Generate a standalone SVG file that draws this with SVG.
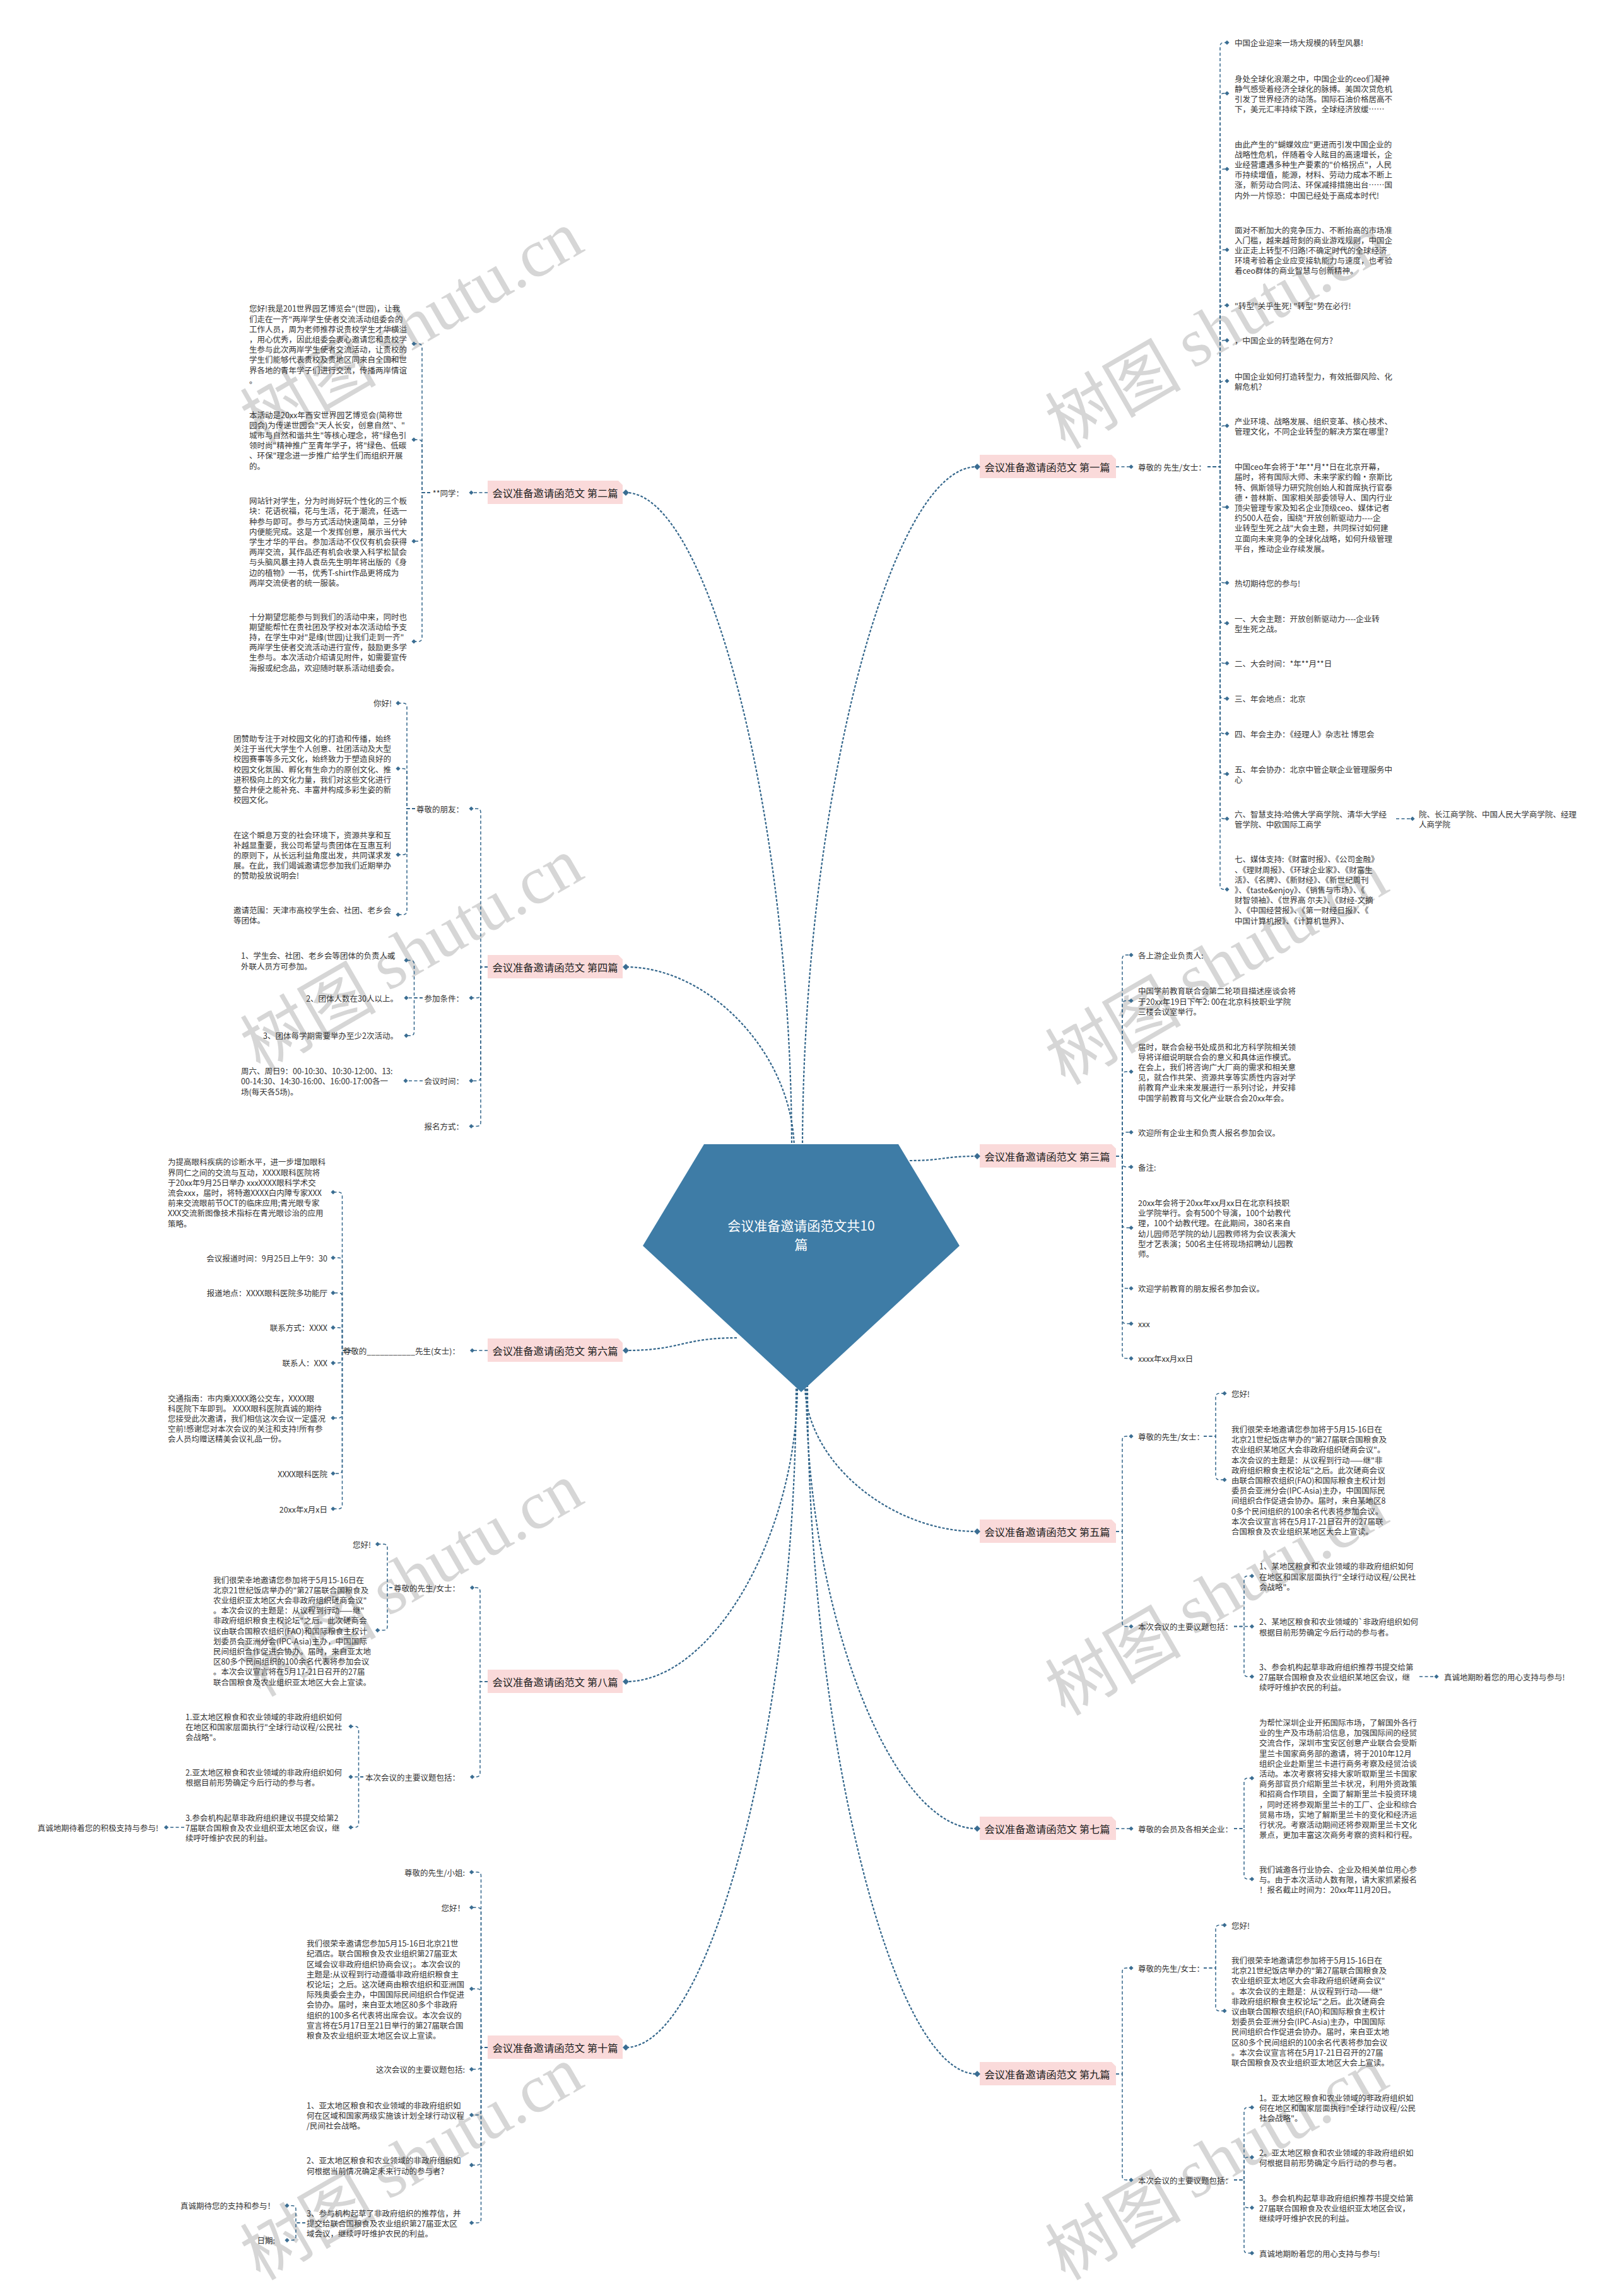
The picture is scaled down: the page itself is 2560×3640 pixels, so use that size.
<svg xmlns="http://www.w3.org/2000/svg" width="2560" height="3640" viewBox="0 0 2560 3640">
<defs>
<style>
.t{font-family:"Noto Sans CJK SC","Liberation Sans",sans-serif;font-size:12.5px;fill:#333;dominant-baseline:central}
.e{text-anchor:end}
.lb{font-family:"Noto Sans CJK SC","Liberation Sans",sans-serif;font-size:16.3px;fill:#222;text-anchor:middle;dominant-baseline:central}
.ct{font-family:"Noto Sans CJK SC","Liberation Sans",sans-serif;font-size:21px;fill:#fff;text-anchor:middle;dominant-baseline:central}
.box{fill:#fadada}
.c{fill:none;stroke:#33668b;stroke-width:1.5;stroke-dasharray:5 3.5}
.m{fill:none;stroke:#33668b;stroke-width:2.2;stroke-dasharray:4 2.5}
.wm{font-family:"Noto Sans CJK SC",sans-serif;font-size:108px;fill:#d6d6d6;text-anchor:middle;dominant-baseline:central}
.wm tspan{font-family:"Liberation Serif",serif}
</style>
<path id="d" d="M0,-3.6L3.6,0L0,3.6L-3.6,0Z" fill="#3a6d92"/>
<path id="D" d="M0,-5L5,0L0,5L-5,0Z" fill="#3a6d92"/>
</defs>
<rect width="2560" height="3640" fill="#fff"/>
<g id="watermarks">
<text class="wm" transform="translate(650,515) rotate(-30)">树图 <tspan>shutu.cn</tspan></text>
<text class="wm" transform="translate(1926,522) rotate(-30)">树图 <tspan>shutu.cn</tspan></text>
<text class="wm" transform="translate(650,1509) rotate(-30)">树图 <tspan>shutu.cn</tspan></text>
<text class="wm" transform="translate(1926,1530) rotate(-30)">树图 <tspan>shutu.cn</tspan></text>
<text class="wm" transform="translate(650,2500) rotate(-30)">树图 <tspan>shutu.cn</tspan></text>
<text class="wm" transform="translate(1926,2530) rotate(-30)">树图 <tspan>shutu.cn</tspan></text>
<text class="wm" transform="translate(650,3425) rotate(-30)">树图 <tspan>shutu.cn</tspan></text>
<text class="wm" transform="translate(1926,3425) rotate(-30)">树图 <tspan>shutu.cn</tspan></text>
</g>
<g id="connectors">
<path class="m" d="M1272,1825C1272,1277 1410,740 1548,740"/>
<path class="m" d="M1255,1825C1255,1297 1124,781 992,781"/>
<path class="m" d="M1259,1825C1259,1673 1125,1533 992,1533"/>
<path class="m" d="M1442,1840C1495,1840 1495,1833 1548,1833"/>
<path class="m" d="M1168,2121C1080,2121 1080,2141 992,2141"/>
<path class="m" d="M1276,2195C1276,2317 1412,2428 1548,2428"/>
<path class="m" d="M1278,2195C1278,2553 1413,2899 1548,2899"/>
<path class="m" d="M1280,2195C1280,2747 1414,3288 1548,3288"/>
<path class="m" d="M1264,2195C1264,2436 1128,2666 992,2666"/>
<path class="m" d="M1262,2195C1262,2726 1127,3246 992,3246"/>
<!-- 第一篇 -->
<path class="c" d="M1769,740H1793"/>
<path class="c" d="M1914,740H1934V73.5Q1934,67.5 1940,67.5H1945"/>
<path class="c" d="M1914,740H1934V154Q1934,148 1940,148H1945"/>
<path class="c" d="M1914,740H1934V274Q1934,268 1940,268H1945"/>
<path class="c" d="M1914,740H1934V402Q1934,396 1940,396H1945"/>
<path class="c" d="M1914,740H1934V490Q1934,484 1940,484H1945"/>
<path class="c" d="M1914,740H1934V545.6Q1934,539.6 1940,539.6H1945"/>
<path class="c" d="M1914,740H1934V610Q1934,604 1940,604H1945"/>
<path class="c" d="M1914,740H1934V681Q1934,675 1940,675H1945"/>
<path class="c" d="M1914,740H1934V798Q1934,804 1940,804H1945"/>
<path class="c" d="M1914,740H1934V918Q1934,924 1940,924H1945"/>
<path class="c" d="M1914,740H1934V982Q1934,988 1940,988H1945"/>
<path class="c" d="M1914,740H1934V1045.5Q1934,1051.5 1940,1051.5H1945"/>
<path class="c" d="M1914,740H1934V1101.6Q1934,1107.6 1940,1107.6H1945"/>
<path class="c" d="M1914,740H1934V1157Q1934,1163 1940,1163H1945"/>
<path class="c" d="M1914,740H1934V1221Q1934,1227 1940,1227H1945"/>
<path class="c" d="M1914,740H1934V1292Q1934,1298 1940,1298H1945"/>
<path class="c" d="M1914,740H1934V1404Q1934,1410 1940,1410H1945"/>
<path class="c" d="M2213,1298H2239"/>
<!-- 第三篇 -->
<path class="c" d="M1769,1833H1779V1520Q1779,1514 1785,1514H1793"/>
<path class="c" d="M1769,1833H1779V1592.5Q1779,1586.5 1785,1586.5H1793"/>
<path class="c" d="M1769,1833H1779V1705Q1779,1699 1785,1699H1793"/>
<path class="c" d="M1769,1833H1779V1801Q1779,1795 1785,1795H1793"/>
<path class="c" d="M1769,1833H1779V1844Q1779,1850 1785,1850H1793"/>
<path class="c" d="M1769,1833H1779V1940.5Q1779,1946.5 1785,1946.5H1793"/>
<path class="c" d="M1769,1833H1779V2036.5Q1779,2042.5 1785,2042.5H1793"/>
<path class="c" d="M1769,1833H1779V2092.5Q1779,2098.5 1785,2098.5H1793"/>
<path class="c" d="M1769,1833H1779V2147.6Q1779,2153.6 1785,2153.6H1793"/>
<!-- 第五篇 -->
<path class="c" d="M1769,2428H1779V2283Q1779,2277 1785,2277H1793"/>
<path class="c" d="M1769,2428H1779V2572.5Q1779,2578.5 1785,2578.5H1793"/>
<path class="c" d="M1908,2277H1927V2215Q1927,2209 1933,2209H1941"/>
<path class="c" d="M1908,2277H1927V2340Q1927,2346 1933,2346H1941"/>
<path class="c" d="M1956,2578.5H1972V2504.5Q1972,2498.5 1978,2498.5H1984.5"/>
<path class="c" d="M1956,2578.5H1984.5"/>
<path class="c" d="M1956,2578.5H1972V2652Q1972,2658 1978,2658H1984.5"/>
<path class="c" d="M2250,2658H2277"/>
<!-- 第七篇 -->
<path class="c" d="M1769,2899H1793"/>
<path class="c" d="M1956,2899H1972V2825Q1972,2819 1978,2819H1984.5"/>
<path class="c" d="M1956,2899H1972V2973Q1972,2979 1978,2979H1984.5"/>
<!-- 第九篇 -->
<path class="c" d="M1769,3288H1779V3126Q1779,3120 1785,3120H1793"/>
<path class="c" d="M1769,3288H1779V3450Q1779,3456 1785,3456H1793"/>
<path class="c" d="M1908,3120H1927V3058Q1927,3052 1933,3052H1941"/>
<path class="c" d="M1908,3120H1927V3182Q1927,3188 1933,3188H1941"/>
<path class="c" d="M1956,3456H1972V3347Q1972,3341 1978,3341H1984.5"/>
<path class="c" d="M1956,3456H1972V3426Q1972,3420 1978,3420H1984.5"/>
<path class="c" d="M1956,3456H1972V3494Q1972,3500 1978,3500H1984.5"/>
<path class="c" d="M1956,3456H1972V3566Q1972,3572 1978,3572H1984.5"/>
<!-- 第二篇 -->
<path class="c" d="M773,781H747"/>
<path class="c" d="M682,781H669V551Q669,545 663,545H656"/>
<path class="c" d="M682,781H669V703Q669,697 663,697H656"/>
<path class="c" d="M682,781H669V852Q669,858 663,858H656"/>
<path class="c" d="M682,781H669V1011Q669,1017 663,1017H656"/>
<!-- 第四篇 -->
<path class="c" d="M773,1533H762V1288Q762,1282 756,1282H747"/>
<path class="c" d="M773,1533H762V1576Q762,1582 756,1582H747"/>
<path class="c" d="M773,1533H762V1707.4Q762,1713.4 756,1713.4H747"/>
<path class="c" d="M773,1533H762V1779.5Q762,1785.5 756,1785.5H747"/>
<path class="c" d="M658,1282H645V1120.7Q645,1114.7 639,1114.7H631"/>
<path class="c" d="M658,1282H645V1224.5Q645,1218.5 639,1218.5H631"/>
<path class="c" d="M658,1282H645V1349Q645,1355 639,1355H631"/>
<path class="c" d="M658,1282H645V1444Q645,1450 639,1450H631"/>
<path class="c" d="M670,1582H656.5V1528.4Q656.5,1522.4 650.5,1522.4H644"/>
<path class="c" d="M670,1582H644"/>
<path class="c" d="M670,1582H656.5V1635.8Q656.5,1641.8 650.5,1641.8H644"/>
<path class="c" d="M670,1713.4H643"/>
<!-- 第六篇 -->
<path class="c" d="M773,2141H748.5"/>
<path class="c" d="M557,2141H542.5V1896Q542.5,1890 536.5,1890H528"/>
<path class="c" d="M557,2141H542.5V2000Q542.5,1994 536.5,1994H528"/>
<path class="c" d="M557,2141H542.5V2055.7Q542.5,2049.7 536.5,2049.7H528"/>
<path class="c" d="M557,2141H542.5V2110.7Q542.5,2104.7 536.5,2104.7H528"/>
<path class="c" d="M557,2141H542.5V2154.8Q542.5,2160.8 536.5,2160.8H528"/>
<path class="c" d="M557,2141H542.5V2242Q542.5,2248 536.5,2248H528"/>
<path class="c" d="M557,2141H542.5V2330Q542.5,2336 536.5,2336H528"/>
<path class="c" d="M557,2141H542.5V2386Q542.5,2392 536.5,2392H528"/>
<!-- 第八篇 -->
<path class="c" d="M773,2666H761V2523Q761,2517 755,2517H748.5"/>
<path class="c" d="M773,2666H761V2811Q761,2817 755,2817H748.5"/>
<path class="c" d="M622,2517H614V2454Q614,2448 608,2448H598.5"/>
<path class="c" d="M622,2517H614V2578.6Q614,2584.6 608,2584.6H598.5"/>
<path class="c" d="M576,2817H568.5V2743Q568.5,2737 562.5,2737H556"/>
<path class="c" d="M576,2817H556"/>
<path class="c" d="M576,2817H568.5V2891Q568.5,2897 562.5,2897H556"/>
<path class="c" d="M292,2897H263.5"/>
<!-- 第十篇 -->
<path class="c" d="M773,3246H762.5V2974Q762.5,2968 756.5,2968H747.5"/>
<path class="c" d="M773,3246H762.5V3030Q762.5,3024 756.5,3024H747.5"/>
<path class="c" d="M773,3246H762.5V3159Q762.5,3153 756.5,3153H747.5"/>
<path class="c" d="M773,3246H762.5V3274.6Q762.5,3280.6 756.5,3280.6H747.5"/>
<path class="c" d="M773,3246H762.5V3347Q762.5,3353 756.5,3353H747.5"/>
<path class="c" d="M773,3246H762.5V3426.4Q762.5,3432.4 756.5,3432.4H747.5"/>
<path class="c" d="M773,3246H762.5V3518Q762.5,3524 756.5,3524H747.5"/>
<path class="c" d="M484,3524H469V3502.7Q469,3496.7 463,3496.7H455"/>
<path class="c" d="M484,3524H469V3545.6Q469,3551.6 463,3551.6H455"/>
</g>
<g id="center">
<path d="M1116,1814H1424L1521,1975L1270,2207L1019,1975Z" fill="#3e7ca6"/>
<text class="ct" x="1270" y="1942">会议准备邀请函范文共10</text>
<text class="ct" x="1270" y="1972">篇</text>
</g>
<!-- branch labels -->
<g id="b1"><path class="box" d="M1553,721H1762L1769,728V758H1553Z"/><text class="lb" x="1660" y="740">会议准备邀请函范文 第一篇</text><use href="#D" x="1549" y="740"/></g>
<g id="b3"><path class="box" d="M1553,1814H1762L1769,1821V1851H1553Z"/><text class="lb" x="1660" y="1833">会议准备邀请函范文 第三篇</text><use href="#D" x="1549" y="1833"/></g>
<g id="b5"><path class="box" d="M1553,2409H1762L1769,2416V2446H1553Z"/><text class="lb" x="1660" y="2428">会议准备邀请函范文 第五篇</text><use href="#D" x="1549" y="2428"/></g>
<g id="b7"><path class="box" d="M1553,2880H1762L1769,2887V2917H1553Z"/><text class="lb" x="1660" y="2899">会议准备邀请函范文 第七篇</text><use href="#D" x="1549" y="2899"/></g>
<g id="b9"><path class="box" d="M1553,3269H1762L1769,3276V3306H1553Z"/><text class="lb" x="1660" y="3288">会议准备邀请函范文 第九篇</text><use href="#D" x="1549" y="3288"/></g>
<g id="b2"><path class="box" d="M773,762H980L987,769V799H773Z"/><text class="lb" x="880" y="781">会议准备邀请函范文 第二篇</text><use href="#D" x="992" y="781"/></g>
<g id="b4"><path class="box" d="M773,1514H980L987,1521V1551H773Z"/><text class="lb" x="880" y="1533">会议准备邀请函范文 第四篇</text><use href="#D" x="992" y="1533"/></g>
<g id="b6"><path class="box" d="M773,2122H980L987,2129V2159H773Z"/><text class="lb" x="880" y="2141">会议准备邀请函范文 第六篇</text><use href="#D" x="992" y="2141"/></g>
<g id="b8"><path class="box" d="M773,2647H980L987,2654V2684H773Z"/><text class="lb" x="880" y="2666">会议准备邀请函范文 第八篇</text><use href="#D" x="992" y="2666"/></g>
<g id="b10"><path class="box" d="M773,3227H980L987,3234V3264H773Z"/><text class="lb" x="880" y="3246">会议准备邀请函范文 第十篇</text><use href="#D" x="992" y="3246"/></g>
<!-- 第一篇 nodes -->
<g id="n1-0"><use href="#d" x="1793" y="740"/><text class="t" x="1804" y="740">尊敬的 先生/女士：</text></g>
<g id="n1-1"><use href="#d" x="1945" y="67.5"/><text class="t" x="1957" y="67.5">中国企业迎来一场大规模的转型风暴!</text></g>
<g id="n1-2"><use href="#d" x="1945" y="148"/><text class="t" x="1957" y="123.7"><tspan>身处全球化浪潮之中，中国企业的ceo们凝神</tspan><tspan x="1957" dy="16.2">静气感受着经济全球化的脉搏。美国次贷危机</tspan><tspan x="1957" dy="16.2">引发了世界经济的动荡。国际石油价格居高不</tspan><tspan x="1957" dy="16.2">下，美元汇率持续下跌，全球经济放缓……</tspan></text></g>
<g id="n1-3"><use href="#d" x="1945" y="268"/><text class="t" x="1957" y="227.5"><tspan>由此产生的"蝴蝶效应"更进而引发中国企业的</tspan><tspan x="1957" dy="16.2">战略性危机，伴随着令人眩目的高速增长，企</tspan><tspan x="1957" dy="16.2">业经营遭遇多种生产要素的"价格拐点"，人民</tspan><tspan x="1957" dy="16.2">币持续增值，能源，材料、劳动力成本不断上</tspan><tspan x="1957" dy="16.2">涨，新劳动合同法、环保减排措施出台……国</tspan><tspan x="1957" dy="16.2">内外一片惊恐：中国已经处于高成本时代!</tspan></text></g>
<g id="n1-4"><use href="#d" x="1945" y="396"/><text class="t" x="1957" y="363.6"><tspan>面对不断加大的竞争压力、不断抬高的市场准</tspan><tspan x="1957" dy="16.2">入门槛，越来越苛刻的商业游戏规则，中国企</tspan><tspan x="1957" dy="16.2">业正走上转型不归路!不确定时代的全球经济</tspan><tspan x="1957" dy="16.2">环境考验着企业应变接轨能力与速度，也考验</tspan><tspan x="1957" dy="16.2">着ceo群体的商业智慧与创新精神。</tspan></text></g>
<g id="n1-5"><use href="#d" x="1945" y="484"/><text class="t" x="1957" y="484">"转型"关乎生死! "转型"势在必行!</text></g>
<g id="n1-6"><use href="#d" x="1945" y="539.6"/><text class="t" x="1957" y="539.6">，中国企业的转型路在何方?</text></g>
<g id="n1-7"><use href="#d" x="1945" y="604"/><text class="t" x="1957" y="595.9"><tspan>中国企业如何打造转型力，有效抵御风险、化</tspan><tspan x="1957" dy="16.2">解危机?</tspan></text></g>
<g id="n1-8"><use href="#d" x="1945" y="675"/><text class="t" x="1957" y="666.9"><tspan>产业环境、战略发展、组织变革、核心技术、</tspan><tspan x="1957" dy="16.2">管理文化，不同企业转型的解决方案在哪里?</tspan></text></g>
<g id="n1-9"><use href="#d" x="1945" y="804"/><text class="t" x="1957" y="739.2"><tspan>中国ceo年会将于*年**月**日在北京开幕，</tspan><tspan x="1957" dy="16.2">届时，将有国际大师、未来学家约翰·奈斯比</tspan><tspan x="1957" dy="16.2">特、佩斯领导力研究院创始人和首席执行官泰</tspan><tspan x="1957" dy="16.2">德·普林斯、国家相关部委领导人、国内行业</tspan><tspan x="1957" dy="16.2">顶尖管理专家及知名企业顶级ceo、媒体记者</tspan><tspan x="1957" dy="16.2">约500人莅会，围绕"开放创新驱动力----企</tspan><tspan x="1957" dy="16.2">业转型生死之战"大会主题，共同探讨如何建</tspan><tspan x="1957" dy="16.2">立面向未来竞争的全球化战略，如何升级管理</tspan><tspan x="1957" dy="16.2">平台，推动企业存续发展。</tspan></text></g>
<g id="n1-10"><use href="#d" x="1945" y="924"/><text class="t" x="1957" y="924">热切期待您的参与!</text></g>
<g id="n1-11"><use href="#d" x="1945" y="988"/><text class="t" x="1957" y="979.9"><tspan>一、大会主题：开放创新驱动力----企业转</tspan><tspan x="1957" dy="16.2">型生死之战。</tspan></text></g>
<g id="n1-12"><use href="#d" x="1945" y="1051.5"/><text class="t" x="1957" y="1051.5">二、大会时间：*年**月**日</text></g>
<g id="n1-13"><use href="#d" x="1945" y="1107.6"/><text class="t" x="1957" y="1107.6">三、年会地点：北京</text></g>
<g id="n1-14"><use href="#d" x="1945" y="1163"/><text class="t" x="1957" y="1163">四、年会主办：《经理人》杂志社 博思会</text></g>
<g id="n1-15"><use href="#d" x="1945" y="1227"/><text class="t" x="1957" y="1218.9"><tspan>五、年会协办：北京中管企联企业管理服务中</tspan><tspan x="1957" dy="16.2">心</tspan></text></g>
<g id="n1-16"><use href="#d" x="1945" y="1298"/><text class="t" x="1957" y="1289.9"><tspan>六、智慧支持:哈佛大学商学院、清华大学经</tspan><tspan x="1957" dy="16.2">管学院、中欧国际工商学</tspan></text></g>
<g id="n1-16a"><use href="#d" x="2239" y="1298"/><text class="t" x="2249" y="1289.9"><tspan>院、长江商学院、中国人民大学商学院、经理</tspan><tspan x="2249" dy="16.2">人商学院</tspan></text></g>
<g id="n1-17"><use href="#d" x="1945" y="1410"/><text class="t" x="1957" y="1361.4"><tspan>七、媒体支持:《财富时报》、《公司金融》</tspan><tspan x="1957" dy="16.2">、《理财周报》、《环球企业家》、《财富生</tspan><tspan x="1957" dy="16.2">活》、《名牌》、《新财经》、《新世纪周刊</tspan><tspan x="1957" dy="16.2">》、《taste&amp;enjoy》、《销售与市场》、《</tspan><tspan x="1957" dy="16.2">财智领袖》、《世界高 尔夫》、《财经-文摘</tspan><tspan x="1957" dy="16.2">》、《中国经营报》、《第一财经日报》、《</tspan><tspan x="1957" dy="16.2">中国计算机报》、《计算机世界》、</tspan></text></g>
<!-- 第三篇 nodes -->
<g id="n3-1"><use href="#d" x="1793" y="1514"/><text class="t" x="1804" y="1514">各上游企业负责人:</text></g>
<g id="n3-2"><use href="#d" x="1793" y="1586.5"/><text class="t" x="1804" y="1570.3"><tspan>中国学前教育联合会第二轮项目描述座谈会将</tspan><tspan x="1804" dy="16.2">于20xx年19日下午2: 00在北京科技职业学院</tspan><tspan x="1804" dy="16.2">三楼会议室举行。</tspan></text></g>
<g id="n3-3"><use href="#d" x="1793" y="1699"/><text class="t" x="1804" y="1658.5"><tspan>届时，联合会秘书处成员和北方科学院相关领</tspan><tspan x="1804" dy="16.2">导将详细说明联合会的意义和具体运作模式。</tspan><tspan x="1804" dy="16.2">在会上，我们将咨询广大厂商的需求和相关意</tspan><tspan x="1804" dy="16.2">见，就合作共荣、资源共享等实质性内容对学</tspan><tspan x="1804" dy="16.2">前教育产业未来发展进行一系列讨论，并安排</tspan><tspan x="1804" dy="16.2">中国学前教育与文化产业联合会20xx年会。</tspan></text></g>
<g id="n3-4"><use href="#d" x="1793" y="1795"/><text class="t" x="1804" y="1795">欢迎所有企业主和负责人报名参加会议。</text></g>
<g id="n3-5"><use href="#d" x="1793" y="1850"/><text class="t" x="1804" y="1850">备注:</text></g>
<g id="n3-6"><use href="#d" x="1793" y="1946.5"/><text class="t" x="1804" y="1906"><tspan>20xx年会将于20xx年xx月xx日在北京科技职</tspan><tspan x="1804" dy="16.2">业学院举行。会有500个导演，100个幼教代</tspan><tspan x="1804" dy="16.2">理，100个幼教代理。在此期间，380名来自</tspan><tspan x="1804" dy="16.2">幼儿园师范学院的幼儿园教师将为会议表演大</tspan><tspan x="1804" dy="16.2">型才艺表演；500名主任将现场招聘幼儿园教</tspan><tspan x="1804" dy="16.2">师。</tspan></text></g>
<g id="n3-7"><use href="#d" x="1793" y="2042.5"/><text class="t" x="1804" y="2042.5">欢迎学前教育的朋友报名参加会议。</text></g>
<g id="n3-8"><use href="#d" x="1793" y="2098.5"/><text class="t" x="1804" y="2098.5">xxx</text></g>
<g id="n3-9"><use href="#d" x="1793" y="2153.6"/><text class="t" x="1804" y="2153.6">xxxx年xx月xx日</text></g>
<!-- 第五篇 nodes -->
<g id="n5-a"><use href="#d" x="1793" y="2277"/><text class="t" x="1804" y="2277">尊敬的先生/女士：</text></g>
<g id="n5-a1"><use href="#d" x="1941" y="2209"/><text class="t" x="1952" y="2209">您好!</text></g>
<g id="n5-a2"><use href="#d" x="1941" y="2346"/><text class="t" x="1952" y="2265"><tspan>我们很荣幸地邀请您参加将于5月15-16日在</tspan><tspan x="1952" dy="16.2">北京21世纪饭店举办的"第27届联合国粮食及</tspan><tspan x="1952" dy="16.2">农业组织某地区大会非政府组织磋商会议"。</tspan><tspan x="1952" dy="16.2">本次会议的主题是：从议程到行动——继"非</tspan><tspan x="1952" dy="16.2">政府组织粮食主权论坛"之后。此次磋商会议</tspan><tspan x="1952" dy="16.2">由联合国粮农组织(FAO)和国际粮食主权计划</tspan><tspan x="1952" dy="16.2">委员会亚洲分会(IPC-Asia)主办，中国国际民</tspan><tspan x="1952" dy="16.2">间组织合作促进会协办。届时，来自某地区8</tspan><tspan x="1952" dy="16.2">0多个民间组织的100余名代表将参加会议。</tspan><tspan x="1952" dy="16.2">本次会议宣言将在5月17-21日召开的27届联</tspan><tspan x="1952" dy="16.2">合国粮食及农业组织某地区大会上宣读。</tspan></text></g>
<g id="n5-b"><use href="#d" x="1793" y="2578.5"/><text class="t" x="1804" y="2578.5">本次会议的主要议题包括：</text></g>
<g id="n5-b1"><use href="#d" x="1984.5" y="2498.5"/><text class="t" x="1996" y="2482.3"><tspan>1、某地区粮食和农业领域的非政府组织如何</tspan><tspan x="1996" dy="16.2">在地区和国家层面执行"全球行动议程/公民社</tspan><tspan x="1996" dy="16.2">会战略"。</tspan></text></g>
<g id="n5-b2"><use href="#d" x="1984.5" y="2578.5"/><text class="t" x="1996" y="2570.4"><tspan>2、某地区粮食和农业领域的`非政府组织如何</tspan><tspan x="1996" dy="16.2">根据目前形势确定今后行动的参与者。</tspan></text></g>
<g id="n5-b3"><use href="#d" x="1984.5" y="2658"/><text class="t" x="1996" y="2641.8"><tspan>3、参会机构起草非政府组织推荐书提交给第</tspan><tspan x="1996" dy="16.2">27届联合国粮食及农业组织某地区会议，继</tspan><tspan x="1996" dy="16.2">续呼吁维护农民的利益。</tspan></text></g>
<g id="n5-b3a"><use href="#d" x="2277" y="2658"/><text class="t" x="2289" y="2658">真诚地期盼着您的用心支持与参与!</text></g>
<!-- 第七篇 nodes -->
<g id="n7-a"><use href="#d" x="1793" y="2899"/><text class="t" x="1804" y="2899">尊敬的会员及各相关企业：</text></g>
<g id="n7-a1"><use href="#d" x="1984.5" y="2819"/><text class="t" x="1996" y="2729.9"><tspan>为帮忙深圳企业开拓国际市场，了解国外各行</tspan><tspan x="1996" dy="16.2">业的生产及市场前沿信息，加强国际间的经贸</tspan><tspan x="1996" dy="16.2">交流合作，深圳市宝安区创意产业联合会受斯</tspan><tspan x="1996" dy="16.2">里兰卡国家商务部的邀请，将于2010年12月</tspan><tspan x="1996" dy="16.2">组织企业赴斯里兰卡进行商务考察及经贸洽谈</tspan><tspan x="1996" dy="16.2">活动。本次考察将安排大家听取斯里兰卡国家</tspan><tspan x="1996" dy="16.2">商务部官员介绍斯里兰卡状况，利用外资政策</tspan><tspan x="1996" dy="16.2">和招商合作项目，全面了解斯里兰卡投资环境</tspan><tspan x="1996" dy="16.2">，同时还将参观斯里兰卡的工厂、企业和综合</tspan><tspan x="1996" dy="16.2">贸易市场，实地了解斯里兰卡的变化和经济运</tspan><tspan x="1996" dy="16.2">行状况。考察活动期间还将参观斯里兰卡文化</tspan><tspan x="1996" dy="16.2">景点，更加丰富这次商务考察的资料和行程。</tspan></text></g>
<g id="n7-a2"><use href="#d" x="1984.5" y="2979"/><text class="t" x="1996" y="2962.8"><tspan>我们诚邀各行业协会、企业及相关单位用心参</tspan><tspan x="1996" dy="16.2">与。由于本次活动人数有限，请大家抓紧报名</tspan><tspan x="1996" dy="16.2">！报名截止时间为：20xx年11月20日。</tspan></text></g>
<!-- 第九篇 nodes -->
<g id="n9-a"><use href="#d" x="1793" y="3120"/><text class="t" x="1804" y="3120">尊敬的先生/女士：</text></g>
<g id="n9-a1"><use href="#d" x="1941" y="3052"/><text class="t" x="1952" y="3052">您好!</text></g>
<g id="n9-a2"><use href="#d" x="1941" y="3188"/><text class="t" x="1952" y="3107"><tspan>我们很荣幸地邀请您参加将于5月15-16日在</tspan><tspan x="1952" dy="16.2">北京21世纪饭店举办的"第27届联合国粮食及</tspan><tspan x="1952" dy="16.2">农业组织亚太地区大会非政府组织磋商会议"</tspan><tspan x="1952" dy="16.2">。本次会议的主题是：从议程到行动——继"</tspan><tspan x="1952" dy="16.2">非政府组织粮食主权论坛"之后。此次磋商会</tspan><tspan x="1952" dy="16.2">议由联合国粮农组织(FAO)和国际粮食主权计</tspan><tspan x="1952" dy="16.2">划委员会亚洲分会(IPC-Asia)主办，中国国际</tspan><tspan x="1952" dy="16.2">民间组织合作促进会协办。届时，来自亚太地</tspan><tspan x="1952" dy="16.2">区80多个民间组织的100余名代表将参加会议</tspan><tspan x="1952" dy="16.2">。本次会议宣言将在5月17-21日召开的27届</tspan><tspan x="1952" dy="16.2">联合国粮食及农业组织亚太地区大会上宣读。</tspan></text></g>
<g id="n9-b"><use href="#d" x="1793" y="3456"/><text class="t" x="1804" y="3456">本次会议的主要议题包括：</text></g>
<g id="n9-b1"><use href="#d" x="1984.5" y="3341"/><text class="t" x="1996" y="3324.8"><tspan>1。亚太地区粮食和农业领域的非政府组织如</tspan><tspan x="1996" dy="16.2">何在地区和国家层面执行"全球行动议程/公民</tspan><tspan x="1996" dy="16.2">社会战略"。</tspan></text></g>
<g id="n9-b2"><use href="#d" x="1984.5" y="3420"/><text class="t" x="1996" y="3411.9"><tspan>2。亚太地区粮食和农业领域的非政府组织如</tspan><tspan x="1996" dy="16.2">何根据目前形势确定今后行动的参与者。</tspan></text></g>
<g id="n9-b3"><use href="#d" x="1984.5" y="3500"/><text class="t" x="1996" y="3483.8"><tspan>3。参会机构起草非政府组织推荐书提交给第</tspan><tspan x="1996" dy="16.2">27届联合国粮食及农业组织亚太地区会议，</tspan><tspan x="1996" dy="16.2">继续呼吁维护农民的利益。</tspan></text></g>
<g id="n9-b4"><use href="#d" x="1984.5" y="3572"/><text class="t" x="1996" y="3572">真诚地期盼着您的用心支持与参与!</text></g>
<!-- 第二篇 nodes -->
<g id="n2-a"><use href="#d" x="747" y="781"/><text class="t e" x="735" y="781">**同学：</text></g>
<g id="n2-a1"><use href="#d" x="656" y="545"/><text class="t" x="395" y="488.3"><tspan>您好!我是201世界园艺博览会"(世园)，让我</tspan><tspan x="395" dy="16.2">们走在一齐"两岸学生使者交流活动组委会的</tspan><tspan x="395" dy="16.2">工作人员，周为老师推荐说贵校学生才华横溢</tspan><tspan x="395" dy="16.2">，用心优秀，因此组委会衷心邀请您和贵校学</tspan><tspan x="395" dy="16.2">生参与此次两岸学生使者交流活动，让贵校的</tspan><tspan x="395" dy="16.2">学生们能够代表贵校及贵地区同来自全国和世</tspan><tspan x="395" dy="16.2">界各地的青年学子们进行交流，传播两岸情谊</tspan><tspan x="395" dy="16.2">。</tspan></text></g>
<g id="n2-a2"><use href="#d" x="656" y="697"/><text class="t" x="395" y="656.5"><tspan>本活动是20xx年西安世界园艺博览会(简称世</tspan><tspan x="395" dy="16.2">园会)为传递世园会"天人长安，创意自然"、"</tspan><tspan x="395" dy="16.2">城市与自然和谐共生"等核心理念，将"绿色引</tspan><tspan x="395" dy="16.2">领时尚"精神推广至青年学子，将"绿色、低碳</tspan><tspan x="395" dy="16.2">、环保"理念进一步推广给学生们而组织开展</tspan><tspan x="395" dy="16.2">的。</tspan></text></g>
<g id="n2-a3"><use href="#d" x="656" y="858"/><text class="t" x="395" y="793.2"><tspan>网站针对学生，分为时尚好玩个性化的三个板</tspan><tspan x="395" dy="16.2">块：花语祝福，花与生活，花于潮流，任选一</tspan><tspan x="395" dy="16.2">种参与即可。参与方式活动快速简单，三分钟</tspan><tspan x="395" dy="16.2">内便能完成。这是一个发挥创意，展示当代大</tspan><tspan x="395" dy="16.2">学生才华的平台。参加活动不仅仅有机会获得</tspan><tspan x="395" dy="16.2">两岸交流，其作品还有机会收录入科学松鼠会</tspan><tspan x="395" dy="16.2">与头脑风暴主持人袁岳先生明年将出版的《身</tspan><tspan x="395" dy="16.2">边的植物》一书，优秀T-shirt作品更将成为</tspan><tspan x="395" dy="16.2">两岸交流使者的统一服装。</tspan></text></g>
<g id="n2-a4"><use href="#d" x="656" y="1017"/><text class="t" x="395" y="976.5"><tspan>十分期望您能参与到我们的活动中来，同时也</tspan><tspan x="395" dy="16.2">期望能帮忙在贵社团及学校对本次活动给予支</tspan><tspan x="395" dy="16.2">持，在学生中对"是缘(世园)让我们走到一齐"</tspan><tspan x="395" dy="16.2">两岸学生使者交流活动进行宣传，鼓励更多学</tspan><tspan x="395" dy="16.2">生参与。本次活动介绍请见附件，如需要宣传</tspan><tspan x="395" dy="16.2">海报或纪念品，欢迎随时联系活动组委会。</tspan></text></g>
<!-- 第四篇 nodes -->
<g id="n4-a"><use href="#d" x="747" y="1282"/><text class="t e" x="735" y="1282">尊敬的朋友：</text></g>
<g id="n4-a1"><use href="#d" x="631" y="1114.7"/><text class="t e" x="621" y="1114.7">你好!</text></g>
<g id="n4-a2"><use href="#d" x="631" y="1218.5"/><text class="t" x="370" y="1169.9"><tspan>团赞助专注于对校园文化的打造和传播，始终</tspan><tspan x="370" dy="16.2">关注于当代大学生个人创意、社团活动及大型</tspan><tspan x="370" dy="16.2">校园赛事等多元文化，始终致力于塑造良好的</tspan><tspan x="370" dy="16.2">校园文化氛围、孵化有生命力的原创文化、推</tspan><tspan x="370" dy="16.2">进积极向上的文化力量，我们对这些文化进行</tspan><tspan x="370" dy="16.2">整合并使之能补充、丰富并构成多彩生姿的新</tspan><tspan x="370" dy="16.2">校园文化。</tspan></text></g>
<g id="n4-a3"><use href="#d" x="631" y="1355"/><text class="t" x="370" y="1322.6"><tspan>在这个瞬息万变的社会环境下，资源共享和互</tspan><tspan x="370" dy="16.2">补越显重要，我公司希望与贵团体在互惠互利</tspan><tspan x="370" dy="16.2">的原则下，从长远利益角度出发，共同谋求发</tspan><tspan x="370" dy="16.2">展。在此，我们竭诚邀请您参加我们近期举办</tspan><tspan x="370" dy="16.2">的赞助投放说明会!</tspan></text></g>
<g id="n4-a4"><use href="#d" x="631" y="1450"/><text class="t" x="370" y="1441.9"><tspan>邀请范围：天津市高校学生会、社团、老乡会</tspan><tspan x="370" dy="16.2">等团体。</tspan></text></g>
<g id="n4-b"><use href="#d" x="747" y="1582"/><text class="t e" x="735" y="1582">参加条件：</text></g>
<g id="n4-b1"><use href="#d" x="644" y="1522.4"/><text class="t" x="382" y="1514.3"><tspan>1、学生会、社团、老乡会等团体的负责人或</tspan><tspan x="382" dy="16.2">外联人员方可参加。</tspan></text></g>
<g id="n4-b2"><use href="#d" x="644" y="1582"/><text class="t e" x="631" y="1582">2、团体人数在30人以上。</text></g>
<g id="n4-b3"><use href="#d" x="644" y="1641.8"/><text class="t e" x="631" y="1641.8">3、团体每学期需要举办至少2次活动。</text></g>
<g id="n4-c"><use href="#d" x="747" y="1713.4"/><text class="t e" x="735" y="1713.4">会议时间：</text></g>
<g id="n4-c1"><use href="#d" x="643" y="1713.4"/><text class="t" x="382" y="1697.2"><tspan>周六、周日9：00-10:30、10:30-12:00、13:</tspan><tspan x="382" dy="16.2">00-14:30、14:30-16:00、16:00-17:00各一</tspan><tspan x="382" dy="16.2">场(每天各5场)。</tspan></text></g>
<g id="n4-d"><use href="#d" x="747" y="1785.5"/><text class="t e" x="735" y="1785.5">报名方式：</text></g>
<!-- 第六篇 nodes -->
<g id="n6-a"><use href="#d" x="748.5" y="2141"/><text class="t e" x="729" y="2141">尊敬的___________先生(女士)：</text></g>
<g id="n6-1"><use href="#d" x="528" y="1890"/><text class="t" x="266" y="1841.4"><tspan>为提高眼科疾病的诊断水平，进一步增加眼科</tspan><tspan x="266" dy="16.2">界同仁之间的交流与互动，XXXX眼科医院将</tspan><tspan x="266" dy="16.2">于20xx年9月25日举办 xxxXXXX眼科学术交</tspan><tspan x="266" dy="16.2">流会xxx，届时，将特邀XXXX白内障专家XXX</tspan><tspan x="266" dy="16.2">前来交流眼前节OCT的临床应用;青光眼专家</tspan><tspan x="266" dy="16.2">XXX交流新图像技术指标在青光眼诊治的应用</tspan><tspan x="266" dy="16.2">策略。</tspan></text></g>
<g id="n6-2"><use href="#d" x="528" y="1994"/><text class="t e" x="519" y="1994">会议报道时间：9月25日上午9：30</text></g>
<g id="n6-3"><use href="#d" x="528" y="2049.7"/><text class="t e" x="519" y="2049.7">报道地点：XXXX眼科医院多功能厅</text></g>
<g id="n6-4"><use href="#d" x="528" y="2104.7"/><text class="t e" x="519" y="2104.7">联系方式：XXXX</text></g>
<g id="n6-5"><use href="#d" x="528" y="2160.8"/><text class="t e" x="519" y="2160.8">联系人：XXX</text></g>
<g id="n6-6"><use href="#d" x="528" y="2248"/><text class="t" x="266" y="2215.6"><tspan>交通指南：市内乘XXXX路公交车，XXXX眼</tspan><tspan x="266" dy="16.2">科医院下车即到。 XXXX眼科医院真诚的期待</tspan><tspan x="266" dy="16.2">您接受此次邀请，我们相信这次会议一定盛况</tspan><tspan x="266" dy="16.2">空前!感谢您对本次会议的关注和支持!所有参</tspan><tspan x="266" dy="16.2">会人员均赠送精美会议礼品一份。</tspan></text></g>
<g id="n6-7"><use href="#d" x="528" y="2336"/><text class="t e" x="519" y="2336">XXXX眼科医院</text></g>
<g id="n6-8"><use href="#d" x="528" y="2392"/><text class="t e" x="519" y="2392">20xx年x月x日</text></g>
<!-- 第八篇 nodes -->
<g id="n8-a"><use href="#d" x="748.5" y="2517"/><text class="t e" x="729" y="2517">尊敬的先生/女士：</text></g>
<g id="n8-a1"><use href="#d" x="598.5" y="2448"/><text class="t e" x="588" y="2448">您好!</text></g>
<g id="n8-a2"><use href="#d" x="598.5" y="2584.6"/><text class="t" x="338" y="2503.6"><tspan>我们很荣幸地邀请您参加将于5月15-16日在</tspan><tspan x="338" dy="16.2">北京21世纪饭店举办的"第27届联合国粮食及</tspan><tspan x="338" dy="16.2">农业组织亚太地区大会非政府组织磋商会议"</tspan><tspan x="338" dy="16.2">。本次会议的主题是：从议程到行动——继"</tspan><tspan x="338" dy="16.2">非政府组织粮食主权论坛"之后。此次磋商会</tspan><tspan x="338" dy="16.2">议由联合国粮农组织(FAO)和国际粮食主权计</tspan><tspan x="338" dy="16.2">划委员会亚洲分会(IPC-Asia)主办，中国国际</tspan><tspan x="338" dy="16.2">民间组织合作促进会协办。届时，来自亚太地</tspan><tspan x="338" dy="16.2">区80多个民间组织的100余名代表将参加会议</tspan><tspan x="338" dy="16.2">。本次会议宣言将在5月17-21日召开的27届</tspan><tspan x="338" dy="16.2">联合国粮食及农业组织亚太地区大会上宣读。</tspan></text></g>
<g id="n8-b"><use href="#d" x="748.5" y="2817"/><text class="t e" x="729" y="2817">本次会议的主要议题包括：</text></g>
<g id="n8-b1"><use href="#d" x="556" y="2737"/><text class="t" x="294" y="2720.8"><tspan>1.亚太地区粮食和农业领域的非政府组织如何</tspan><tspan x="294" dy="16.2">在地区和国家层面执行"全球行动议程/公民社</tspan><tspan x="294" dy="16.2">会战略"。</tspan></text></g>
<g id="n8-b2"><use href="#d" x="556" y="2817"/><text class="t" x="294" y="2808.9"><tspan>2.亚太地区粮食和农业领域的非政府组织如何</tspan><tspan x="294" dy="16.2">根据目前形势确定今后行动的参与者。</tspan></text></g>
<g id="n8-b3"><use href="#d" x="556" y="2897"/><text class="t" x="294" y="2880.8"><tspan>3.参会机构起草非政府组织建议书提交给第2</tspan><tspan x="294" dy="16.2">7届联合国粮食及农业组织亚太地区会议，继</tspan><tspan x="294" dy="16.2">续呼吁维护农民的利益。</tspan></text></g>
<g id="n8-b3a"><use href="#d" x="263.5" y="2897"/><text class="t e" x="251" y="2897">真诚地期待着您的积极支持与参与!</text></g>
<!-- 第十篇 nodes -->
<g id="n10-1"><use href="#d" x="747.5" y="2968"/><text class="t e" x="737" y="2968">尊敬的先生/小姐:</text></g>
<g id="n10-2"><use href="#d" x="747.5" y="3024"/><text class="t e" x="737" y="3024">您好！</text></g>
<g id="n10-3"><use href="#d" x="747.5" y="3153"/><text class="t" x="486" y="3080.1"><tspan>我们很荣幸邀请您参加5月15-16日北京21世</tspan><tspan x="486" dy="16.2">纪酒店。联合国粮食及农业组织第27届亚太</tspan><tspan x="486" dy="16.2">区域会议非政府组织协商会议；。本次会议的</tspan><tspan x="486" dy="16.2">主题是:从议程到行动遵循非政府组织粮食主</tspan><tspan x="486" dy="16.2">权论坛；之后。这次磋商由粮农组织和亚洲国</tspan><tspan x="486" dy="16.2">际残奥委会主办，中国国际民间组织合作促进</tspan><tspan x="486" dy="16.2">会协办。届时，来自亚太地区80多个非政府</tspan><tspan x="486" dy="16.2">组织的100多名代表将出席会议。本次会议的</tspan><tspan x="486" dy="16.2">宣言将在5月17日至21日举行的第27届联合国</tspan><tspan x="486" dy="16.2">粮食及农业组织亚太地区会议上宣读。</tspan></text></g>
<g id="n10-4"><use href="#d" x="747.5" y="3280.6"/><text class="t e" x="737" y="3280.6">这次会议的主要议题包括:</text></g>
<g id="n10-5"><use href="#d" x="747.5" y="3353"/><text class="t" x="486" y="3336.8"><tspan>1、亚太地区粮食和农业领域的非政府组织如</tspan><tspan x="486" dy="16.2">何在区域和国家两级实施该计划全球行动议程</tspan><tspan x="486" dy="16.2">/民间社会战略。</tspan></text></g>
<g id="n10-6"><use href="#d" x="747.5" y="3432.4"/><text class="t" x="486" y="3424.3"><tspan>2、亚太地区粮食和农业领域的非政府组织如</tspan><tspan x="486" dy="16.2">何根据当前情况确定未来行动的参与者?</tspan></text></g>
<g id="n10-7"><use href="#d" x="747.5" y="3524"/><text class="t" x="486" y="3507.8"><tspan>3、参与机构起草了非政府组织的推荐信，并</tspan><tspan x="486" dy="16.2">提交给联合国粮食及农业组织第27届亚太区</tspan><tspan x="486" dy="16.2">域会议，继续呼吁维护农民的利益。</tspan></text></g>
<g id="n10-7a"><use href="#d" x="455" y="3496.7"/><text class="t e" x="436" y="3496.7">真诚期待您的支持和参与！</text></g>
<g id="n10-7b"><use href="#d" x="455" y="3551.6"/><text class="t e" x="436" y="3551.6">日期:</text></g>
</svg>
